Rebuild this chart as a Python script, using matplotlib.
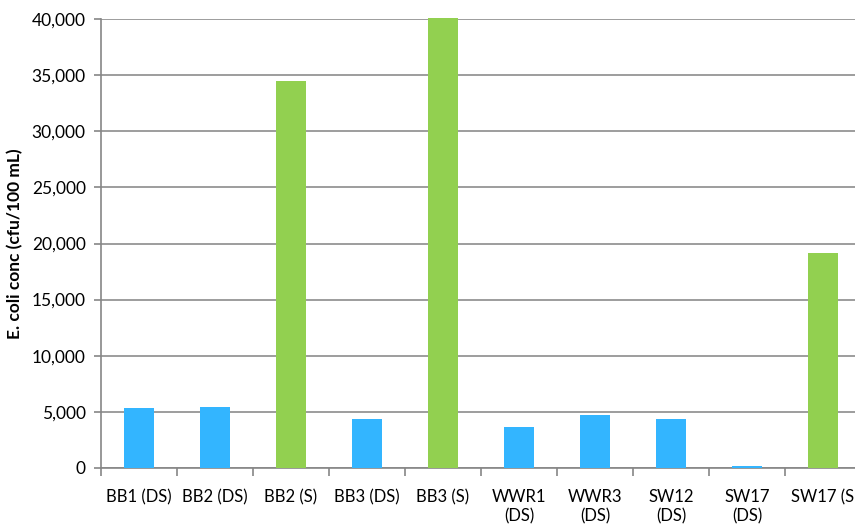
import numpy as np
import matplotlib
matplotlib.use('Agg')
import matplotlib.pyplot as plt
from matplotlib.ticker import FuncFormatter, FixedLocator

sites = ['BB1 (DS)', 'BB2 (DS)', 'BB2 (S)', 'BB3 (DS)', 'BB3 (S)',
         'WWR1\n(DS)', 'WWR3\n(DS)', 'SW12\n(DS)', 'SW17\n(DS)', 'SW17 (S']
ecoli = [5350, 5430, 34450, 4370, 40100, 3630, 4750, 4370, 180, 19150]
kind = ['DS', 'DS', 'S', 'DS', 'S', 'DS', 'DS', 'DS', 'DS', 'S']
colors = {'DS': '#33b5ff', 'S': '#92d050'}

plt.rcParams['font.family'] = ['Lato', 'DejaVu Sans']

fig = plt.figure(figsize=(8.55, 5.26), dpi=100)
ax = fig.add_axes([101/855, 58/526, 760/855, 449/526])

x = np.arange(len(sites))
bars = ax.bar(x, ecoli, width=0.4, color=[colors[k] for k in kind], zorder=3)
for b in bars:
    b.set_clip_on(False)

ax.set_xlim(-0.5, len(sites) - 0.5)
ax.set_ylim(0, 40000)
ax.set_yticks(np.arange(0, 40001, 5000))
ax.yaxis.set_major_formatter(FuncFormatter(lambda v, p: '{:,.0f}'.format(v)))
ax.grid(axis='y', color='#8c8c8c', linewidth=1.2, zorder=0)

ax.set_xticks(x)
ax.set_xticklabels(sites, fontsize=12, linespacing=1.3, va='top')
ax.xaxis.set_minor_locator(FixedLocator(np.arange(-0.5, len(sites), 1)))
ax.tick_params(axis='x', which='major', length=0, pad=15)
ax.tick_params(axis='x', which='minor', length=6, color='#868686', width=1.2)
ax.tick_params(axis='y', length=5, color='#868686', width=1.2, labelsize=12.5, pad=6)

for s in ['top', 'right']:
    ax.spines[s].set_visible(False)
for s in ['left', 'bottom']:
    ax.spines[s].set_color('#868686')
    ax.spines[s].set_linewidth(1.2)

ax.set_ylabel('E. coli conc (cfu/100 mL)', fontsize=12.5, fontweight='bold', labelpad=6)

fig.savefig('out.png', dpi=100)
